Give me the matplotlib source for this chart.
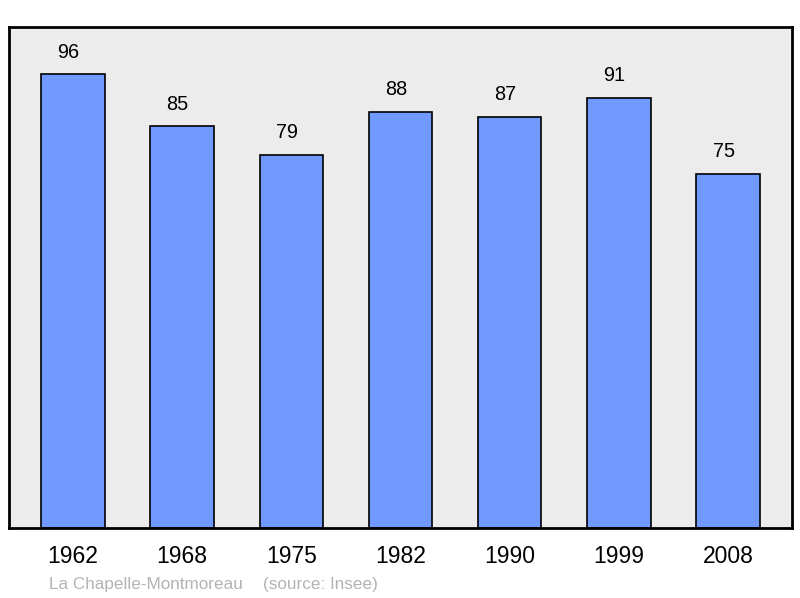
import matplotlib
matplotlib.use("Agg")
import matplotlib.pyplot as plt

plt.rcParams['font.family'] = ['Liberation Sans', 'DejaVu Sans']

years = ['1962', '1968', '1975', '1982', '1990', '1999', '2008']
population = [96, 85, 79, 88, 87, 91, 75]
commune = 'La Chapelle-Montmoreau'
source = '(source: Insee)'

fig = plt.figure(figsize=(8, 5.98), dpi=100)
ax = fig.add_axes([9 / 800, 1 - 528 / 598, 783 / 800, 501 / 598])
ax.set_facecolor('#ececec')

x = range(len(years))
ax.bar(x, population, width=0.58, color='#7099ff', edgecolor='black', linewidth=1.2, zorder=2)
for i, v in zip(x, population):
    ax.annotate(str(v), (i, v), xytext=(-3.3, 16), textcoords='offset points',
                ha='center', va='center', fontsize=14.3)

ax.set_xlim(-0.585, len(years) - 1 + 0.585)
ax.set_ylim(0, 106)
ax.set_yticks([])
ax.set_xticks(list(x))
ax.set_xticklabels(years, fontsize=16.5)
ax.tick_params(axis='x', length=0, pad=12)
for s in ax.spines.values():
    s.set_linewidth(2)

fig.text(49 / 800, 1 - 584 / 598, commune, fontsize=12.3,
         color='#b3b3b3', va='center', ha='left')
fig.text(263 / 800, 1 - 584 / 598, source, fontsize=12.3,
         color='#b3b3b3', va='center', ha='left')

fig.savefig('out.png', dpi=100)
